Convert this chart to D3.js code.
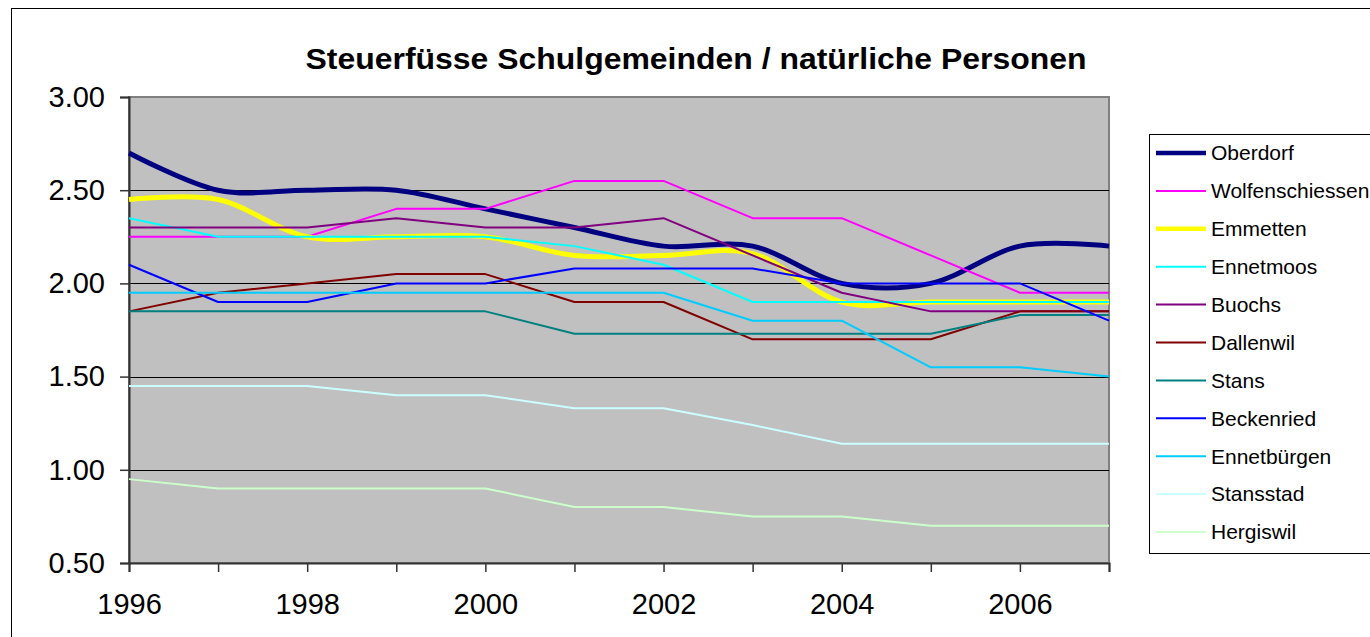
<!DOCTYPE html>
<html>
<head>
<meta charset="utf-8">
<script src="https://cdn.jsdelivr.net/npm/d3@7"></script>
<style>
  body { margin: 0; background: #fff; }
  svg { display: block; font-family: "Liberation Sans", Arial, sans-serif; }
</style>
</head>
<body>
<svg width="1370" height="637"></svg>
<script>
const years = [1996, 1997, 1998, 1999, 2000, 2001, 2002, 2003, 2004, 2005, 2006, 2007];
const yTicks = [0.5, 1.0, 1.5, 2.0, 2.5, 3.0];
const xLabelYears = [1996, 1998, 2000, 2002, 2004, 2006];

const names = ['Oberdorf', 'Wolfenschiessen', 'Emmetten', 'Ennetmoos', 'Buochs', 'Dallenwil',
  'Stans', 'Beckenried', 'Ennetbürgen', 'Stansstad', 'Hergiswil'];
const colors = ['#000080', '#ff00ff', '#ffff00', '#00ffff', '#800080', '#800000',
  '#008080', '#0000ff', '#00ccff', '#ccffff', '#ccffcc'];

const oberdorf        = [2.70, 2.50, 2.50, 2.50, 2.40, 2.30, 2.20, 2.20, 2.00, 2.00, 2.20, 2.20];
const wolfenschiessen = [2.25, 2.25, 2.25, 2.40, 2.40, 2.55, 2.55, 2.35, 2.35, 2.15, 1.95, 1.95];
const emmetten        = [2.45, 2.45, 2.25, 2.25, 2.25, 2.15, 2.15, 2.16, 1.90, 1.90, 1.90, 1.90];
const ennetmoos       = [2.35, 2.25, 2.25, 2.25, 2.25, 2.20, 2.10, 1.90, 1.90, 1.90, 1.90, 1.90];
const buochs          = [2.30, 2.30, 2.30, 2.35, 2.30, 2.30, 2.35, 2.15, 1.95, 1.85, 1.85, 1.85];
const dallenwil       = [1.85, 1.95, 2.00, 2.05, 2.05, 1.90, 1.90, 1.70, 1.70, 1.70, 1.85, 1.85];
const stans           = [1.85, 1.85, 1.85, 1.85, 1.85, 1.73, 1.73, 1.73, 1.73, 1.73, 1.83, 1.83];
const beckenried      = [2.10, 1.90, 1.90, 2.00, 2.00, 2.08, 2.08, 2.08, 2.00, 2.00, 2.00, 1.80];
const ennetbuergen    = [1.95, 1.95, 1.95, 1.95, 1.95, 1.95, 1.95, 1.80, 1.80, 1.55, 1.55, 1.50];
const stansstad       = [1.45, 1.45, 1.45, 1.40, 1.40, 1.33, 1.33, 1.24, 1.14, 1.14, 1.14, 1.14];
const hergiswil       = [0.95, 0.90, 0.90, 0.90, 0.90, 0.80, 0.80, 0.75, 0.75, 0.70, 0.70, 0.70];

const values = [oberdorf, wolfenschiessen, emmetten, ennetmoos, buochs, dallenwil,
  stans, beckenried, ennetbuergen, stansstad, hergiswil];
const smooth = ['Oberdorf', 'Emmetten'];

const svg = d3.select('svg');

const plot = {left: 129, top: 97, right: 1109, bottom: 563};

const x = d3.scaleLinear().domain([1996, 2007]).range([plot.left, plot.right]);
const y = d3.scaleLinear().domain([0.5, 3.0]).range([plot.bottom, plot.top]);

// outer chart frame
svg.append('rect')
    .attr('x', 11.5).attr('y', 8.5)
    .attr('width', 1400).attr('height', 700)
    .attr('fill', '#fff').attr('stroke', '#000').attr('stroke-width', 1);

// title
svg.append('text')
    .attr('x', 696).attr('y', 69)
    .attr('text-anchor', 'middle')
    .attr('font-size', 30).attr('font-weight', 'bold')
    .attr('textLength', 781).attr('lengthAdjust', 'spacingAndGlyphs')
    .text('Steuerfüsse Schulgemeinden / natürliche Personen');

// plot area
svg.append('rect')
    .attr('x', plot.left).attr('y', plot.top)
    .attr('width', plot.right - plot.left).attr('height', plot.bottom - plot.top)
    .attr('fill', '#c0c0c0')
    .attr('stroke', '#808080').attr('stroke-width', 2);

// gridlines
svg.append('g')
    .selectAll('line')
    .data(yTicks.filter(d => d > 0.5 && d < 3.0))
    .join('line')
    .attr('x1', plot.left).attr('x2', plot.right)
    .attr('y1', d => Math.round(y(d)) + 0.5).attr('y2', d => Math.round(y(d)) + 0.5)
    .attr('stroke', '#000').attr('stroke-width', 1);

// axes
const yAxis = d3.axisLeft(y).tickValues(yTicks).tickFormat(d3.format('.2f')).tickSizeOuter(0).tickSize(9).tickPadding(15);
const gy = svg.append('g').attr('transform', `translate(${plot.left},0)`).call(yAxis);

const xAxis = d3.axisBottom(x).tickValues(years).tickFormat(d => xLabelYears.includes(d) ? d : '')
    .tickSizeOuter(0).tickSize(9).tickPadding(21);
const gx = svg.append('g').attr('transform', `translate(0,${plot.bottom})`).call(xAxis);

[gx, gy].forEach(g => {
  g.select('.domain').attr('stroke', '#333').attr('stroke-width', 2);
  g.selectAll('.tick line').attr('stroke', '#333').attr('stroke-width', 1.5);
  g.selectAll('text').attr('font-size', 29).attr('fill', '#000')
      .attr('font-family', '"Liberation Sans", Arial, sans-serif');
});

// series
const series = names.map((name, i) => ({
  name, color: colors[i],
  width: smooth.includes(name) ? 5 : 2,
  points: years.map((yr, j) => [yr, values[i][j]])
}));

const straight = d3.line().x(d => x(d[0])).y(d => y(d[1]));
const curved = d3.line().x(d => x(d[0])).y(d => y(d[1])).curve(d3.curveCardinal.tension(0));

svg.append('g')
    .selectAll('path')
    .data(series)
    .join('path')
    .attr('d', d => (smooth.includes(d.name) ? curved : straight)(d.points))
    .attr('fill', 'none')
    .attr('stroke', d => d.color)
    .attr('stroke-width', d => d.width)
    .attr('stroke-linejoin', 'round');

// legend
const legend = svg.append('g');
legend.append('rect')
    .attr('x', 1149.5).attr('y', 134.5)
    .attr('width', 260).attr('height', 419)
    .attr('fill', '#fff').attr('stroke', '#000').attr('stroke-width', 1);

const item = legend.selectAll('g.item')
    .data(series)
    .join('g')
    .attr('class', 'item')
    .attr('transform', (d, i) => `translate(0,${153 + i * 37.9})`);

item.append('line')
    .attr('x1', 1156).attr('x2', 1206)
    .attr('stroke', d => d.color)
    .attr('stroke-width', d => d.width === 5 ? 4.5 : 2);

item.append('text')
    .attr('x', 1211).attr('dy', '0.35em')
    .attr('font-size', 21)
    .text(d => d.name);
</script>
</body>
</html>
